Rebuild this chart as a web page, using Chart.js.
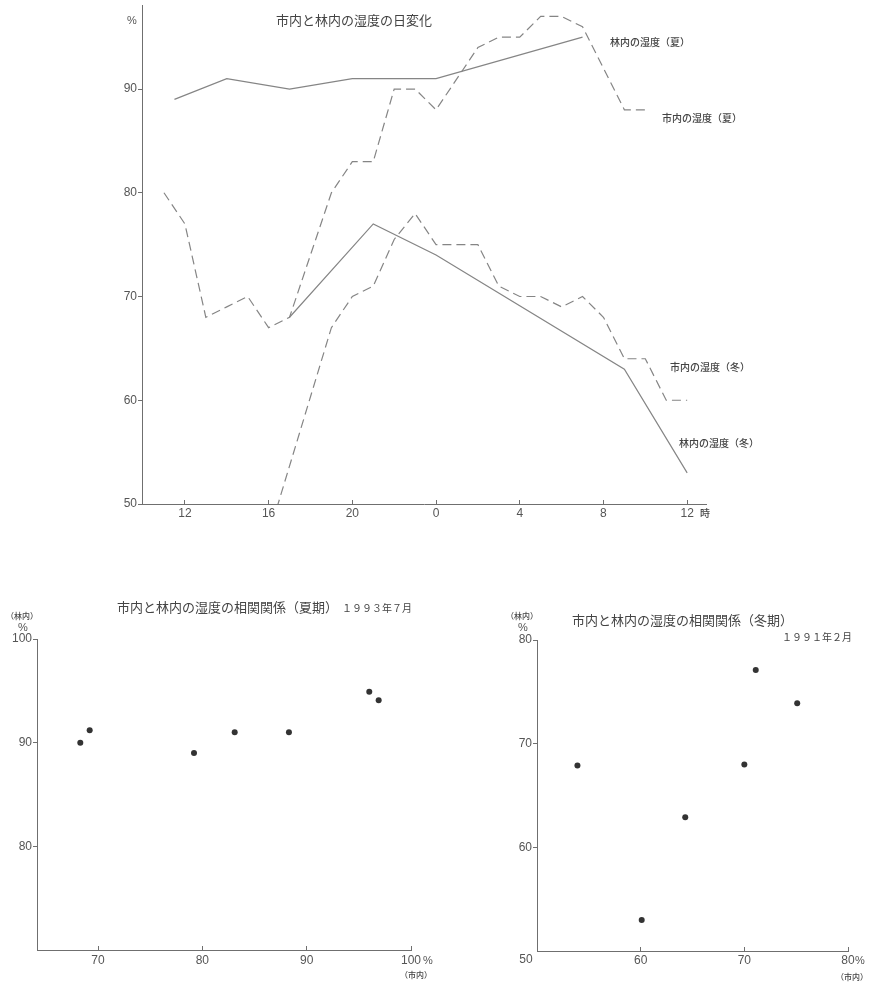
<!DOCTYPE html>
<html lang="ja">
<head>
<meta charset="utf-8">
<title>市内と林内の湿度</title>
<script src="https://cdn.jsdelivr.net/npm/chart.js@4.4.1/dist/chart.umd.min.js"></script>
<style>
  body { margin: 0; background: #fff; }
  .wrap { position: relative; width: 869px; height: 984px; }
  canvas { position: absolute; }
  #dayChart { left: 0; top: 0; }
  #summerChart { left: 0; top: 560px; }
  #winterChart { left: 440px; top: 560px; }
</style>
</head>
<body>
<div class="wrap">
  <canvas id="dayChart" width="869" height="540"></canvas>
  <canvas id="summerChart" width="440" height="424"></canvas>
  <canvas id="winterChart" width="429" height="424"></canvas>
</div>
<script>
// daily change, hour counted from midnight of day 1 (24 = 0時 next day)
const cityHoursSummer = [11, 12, 13, 14, 15, 16, 17, 18, 19, 20, 21, 22, 23, 24, 26, 27, 28, 29, 30, 31, 33, 34];
const citySummer = [80, 77, 68, 69, 70, 67, 68, 74, 80, 83, 83, 90, 90, 88, 94, 95, 95, 97, 97, 96, 88, 88];
const forestHoursSummer = [11.5, 14, 17, 20, 24, 31];
const forestSummer = [89, 91, 90, 91, 91, 95];
const cityHoursWinter = [16, 19, 20, 21, 22, 23, 24, 26, 27, 28, 29, 30, 31, 32, 33, 34, 35, 36];
const cityWinter = [47, 67, 70, 71, 75.5, 78, 75, 75, 71, 70, 70, 69, 70, 68, 64, 64, 60, 60];
const forestHoursWinter = [17, 21, 24, 33, 36];
const forestWinter = [68, 77, 74, 63, 53];
const hourTicks = [12, 16, 20, 24, 28, 32, 36];
const dayPctTicks = [50, 60, 70, 80, 90];

// correlation, summer (1993.7) and winter (1991.2)
const summerCity = [68.3, 69.2, 79.2, 83.1, 88.3, 96.0, 96.9];
const summerForest = [90, 91.2, 89, 91, 91, 94.9, 94.1];
const summerXTicks = [70, 80, 90, 100];
const summerYTicks = [80, 90, 100];
const winterCity = [53.9, 60.1, 64.3, 70, 71.1, 75.1];
const winterForest = [67.9, 53, 62.9, 68, 77.1, 73.9];
const winterXTicks = [60, 70, 80];
const winterYTicks = [60, 70, 80];

const lineGray = '#858585';
const axisGray = '#6f6f6f';
const textGray = '#555';
const tickFont = { family: '"Liberation Sans", Arial, sans-serif', size: 12 };
const jp = '"Noto Sans CJK JP", sans-serif';

function pts(xs, ys) {
  return xs.map((x, i) => ({ x: x, y: ys[i] }));
}

// fixed box size so the plot area lands where the original has it
function fixBox(size, vertical) {
  return function(s) {
    if (vertical) s.width = size; else s.height = size;
    s.paddingTop = 0; s.paddingBottom = 0; s.paddingLeft = 0; s.paddingRight = 0;
  };
}

function xAxis(min, max, ticks, height, pad, fmt) {
  return {
    type: 'linear', min: min, max: max,
    afterBuildTicks: s => { s.ticks = ticks.map(v => ({ value: v })); },
    afterFit: fixBox(height, false),
    grid: { drawOnChartArea: false, color: axisGray, tickLength: -4 },
    border: { color: axisGray, width: 1 },
    ticks: { color: textGray, font: tickFont, padding: pad, maxRotation: 0, autoSkip: false, callback: fmt }
  };
}

function yAxis(min, max, ticks, width) {
  return {
    type: 'linear', min: min, max: max,
    afterBuildTicks: s => { s.ticks = ticks.map(v => ({ value: v })); },
    afterFit: fixBox(width, true),
    grid: { drawOnChartArea: false, color: axisGray, tickLength: 4 },
    border: { color: axisGray, width: 1 },
    ticks: { color: textGray, font: tickFont, padding: 1, autoSkip: false }
  };
}

// free text: titles, line names, unit marks
const notesPlugin = {
  id: 'notes',
  afterDraw(chart, args, opts) {
    const ctx = chart.ctx;
    ctx.save();
    (opts.items || []).forEach(n => {
      ctx.font = n.font;
      ctx.fillStyle = n.color || '#444';
      ctx.textAlign = n.align || 'left';
      ctx.textBaseline = 'middle';
      ctx.fillText(n.text, n.x, n.y);
    });
    ctx.restore();
  }
};

const lbl = '500 10px ' + jp;
const small = '500 8px ' + jp;
const ttl = '13px ' + jp;
const num = '11px "Liberation Sans", Arial, sans-serif';

new Chart(document.getElementById('dayChart'), {
  type: 'line',
  data: {
    datasets: [
      { data: pts(cityHoursSummer, citySummer), borderColor: lineGray, borderWidth: 1.2, borderDash: [9, 5] },
      { data: pts(forestHoursSummer, forestSummer), borderColor: lineGray, borderWidth: 1.2 },
      { data: pts(cityHoursWinter, cityWinter), borderColor: lineGray, borderWidth: 1.2, borderDash: [9, 5] },
      { data: pts(forestHoursWinter, forestWinter), borderColor: lineGray, borderWidth: 1.2 }
    ]
  },
  options: {
    responsive: false,
    animation: false,
    devicePixelRatio: 1,
    layout: { padding: { top: 5, right: 163, left: 0, bottom: 0 } },
    elements: { point: { radius: 0 }, line: { tension: 0 } },
    scales: {
      x: xAxis(9.95, 36.9, hourTicks, 36, 6, v => String(v % 24)),
      y: yAxis(50, 98.1, dayPctTicks, 142)
    },
    plugins: {
      legend: { display: false },
      tooltip: { enabled: false },
      notes: {
        items: [
          { text: '市内と林内の湿度の日変化', x: 354, y: 20, font: ttl, align: 'center' },
          { text: '%', x: 132, y: 21, font: num, align: 'center', color: textGray },
          { text: '林内の湿度（夏）', x: 610, y: 42, font: lbl },
          { text: '市内の湿度（夏）', x: 662, y: 118, font: lbl },
          { text: '市内の湿度（冬）', x: 670, y: 367, font: lbl },
          { text: '林内の湿度（冬）', x: 679, y: 443, font: lbl },
          { text: '時', x: 705, y: 513, font: lbl, align: 'center' }
        ]
      }
    }
  },
  plugins: [notesPlugin]
});

new Chart(document.getElementById('summerChart'), {
  type: 'scatter',
  data: {
    datasets: [{ data: pts(summerCity, summerForest), backgroundColor: '#333', borderWidth: 0, pointRadius: 3 }]
  },
  options: {
    responsive: false,
    animation: false,
    devicePixelRatio: 1,
    layout: { padding: { top: 79, right: 29, left: 0, bottom: 0 } },
    scales: {
      x: xAxis(64.15, 100, summerXTicks, 34, 7),
      y: yAxis(70, 100, summerYTicks, 37)
    },
    plugins: {
      legend: { display: false },
      tooltip: { enabled: false },
      notes: {
        items: [
          { text: '市内と林内の湿度の相関関係（夏期）', x: 117, y: 47, font: ttl },
          { text: '１９９３年７月', x: 342, y: 48, font: '10px ' + jp },
          { text: '（林内）', x: 22, y: 56, font: small, align: 'center' },
          { text: '%', x: 23, y: 68, font: num, align: 'center', color: textGray },
          { text: '%', x: 428, y: 401, font: num, align: 'center', color: textGray },
          { text: '（市内）', x: 416, y: 415, font: small, align: 'center' }
        ]
      }
    }
  },
  plugins: [notesPlugin]
});

new Chart(document.getElementById('winterChart'), {
  type: 'scatter',
  data: {
    datasets: [{ data: pts(winterCity, winterForest), backgroundColor: '#333', borderWidth: 0, pointRadius: 3 }]
  },
  options: {
    responsive: false,
    animation: false,
    devicePixelRatio: 1,
    layout: { padding: { top: 80, right: 21, left: 0, bottom: 0 } },
    scales: {
      x: xAxis(50, 80, winterXTicks, 33, 6),
      y: yAxis(50, 80, winterYTicks, 97)
    },
    plugins: {
      legend: { display: false },
      tooltip: { enabled: false },
      notes: {
        items: [
          { text: '市内と林内の湿度の相関関係（冬期）', x: 132, y: 60, font: ttl },
          { text: '１９９１年２月', x: 342, y: 77, font: '10px ' + jp },
          { text: '（林内）', x: 82, y: 56, font: small, align: 'center' },
          { text: '%', x: 83, y: 68, font: num, align: 'center', color: textGray },
          { text: '50', x: 86, y: 400, font: '12px "Liberation Sans", Arial, sans-serif', align: 'center', color: textGray },
          { text: '%', x: 420, y: 401, font: num, align: 'center', color: textGray },
          { text: '（市内）', x: 412, y: 417, font: small, align: 'center' }
        ]
      }
    }
  },
  plugins: [notesPlugin]
});
</script>
</body>
</html>
